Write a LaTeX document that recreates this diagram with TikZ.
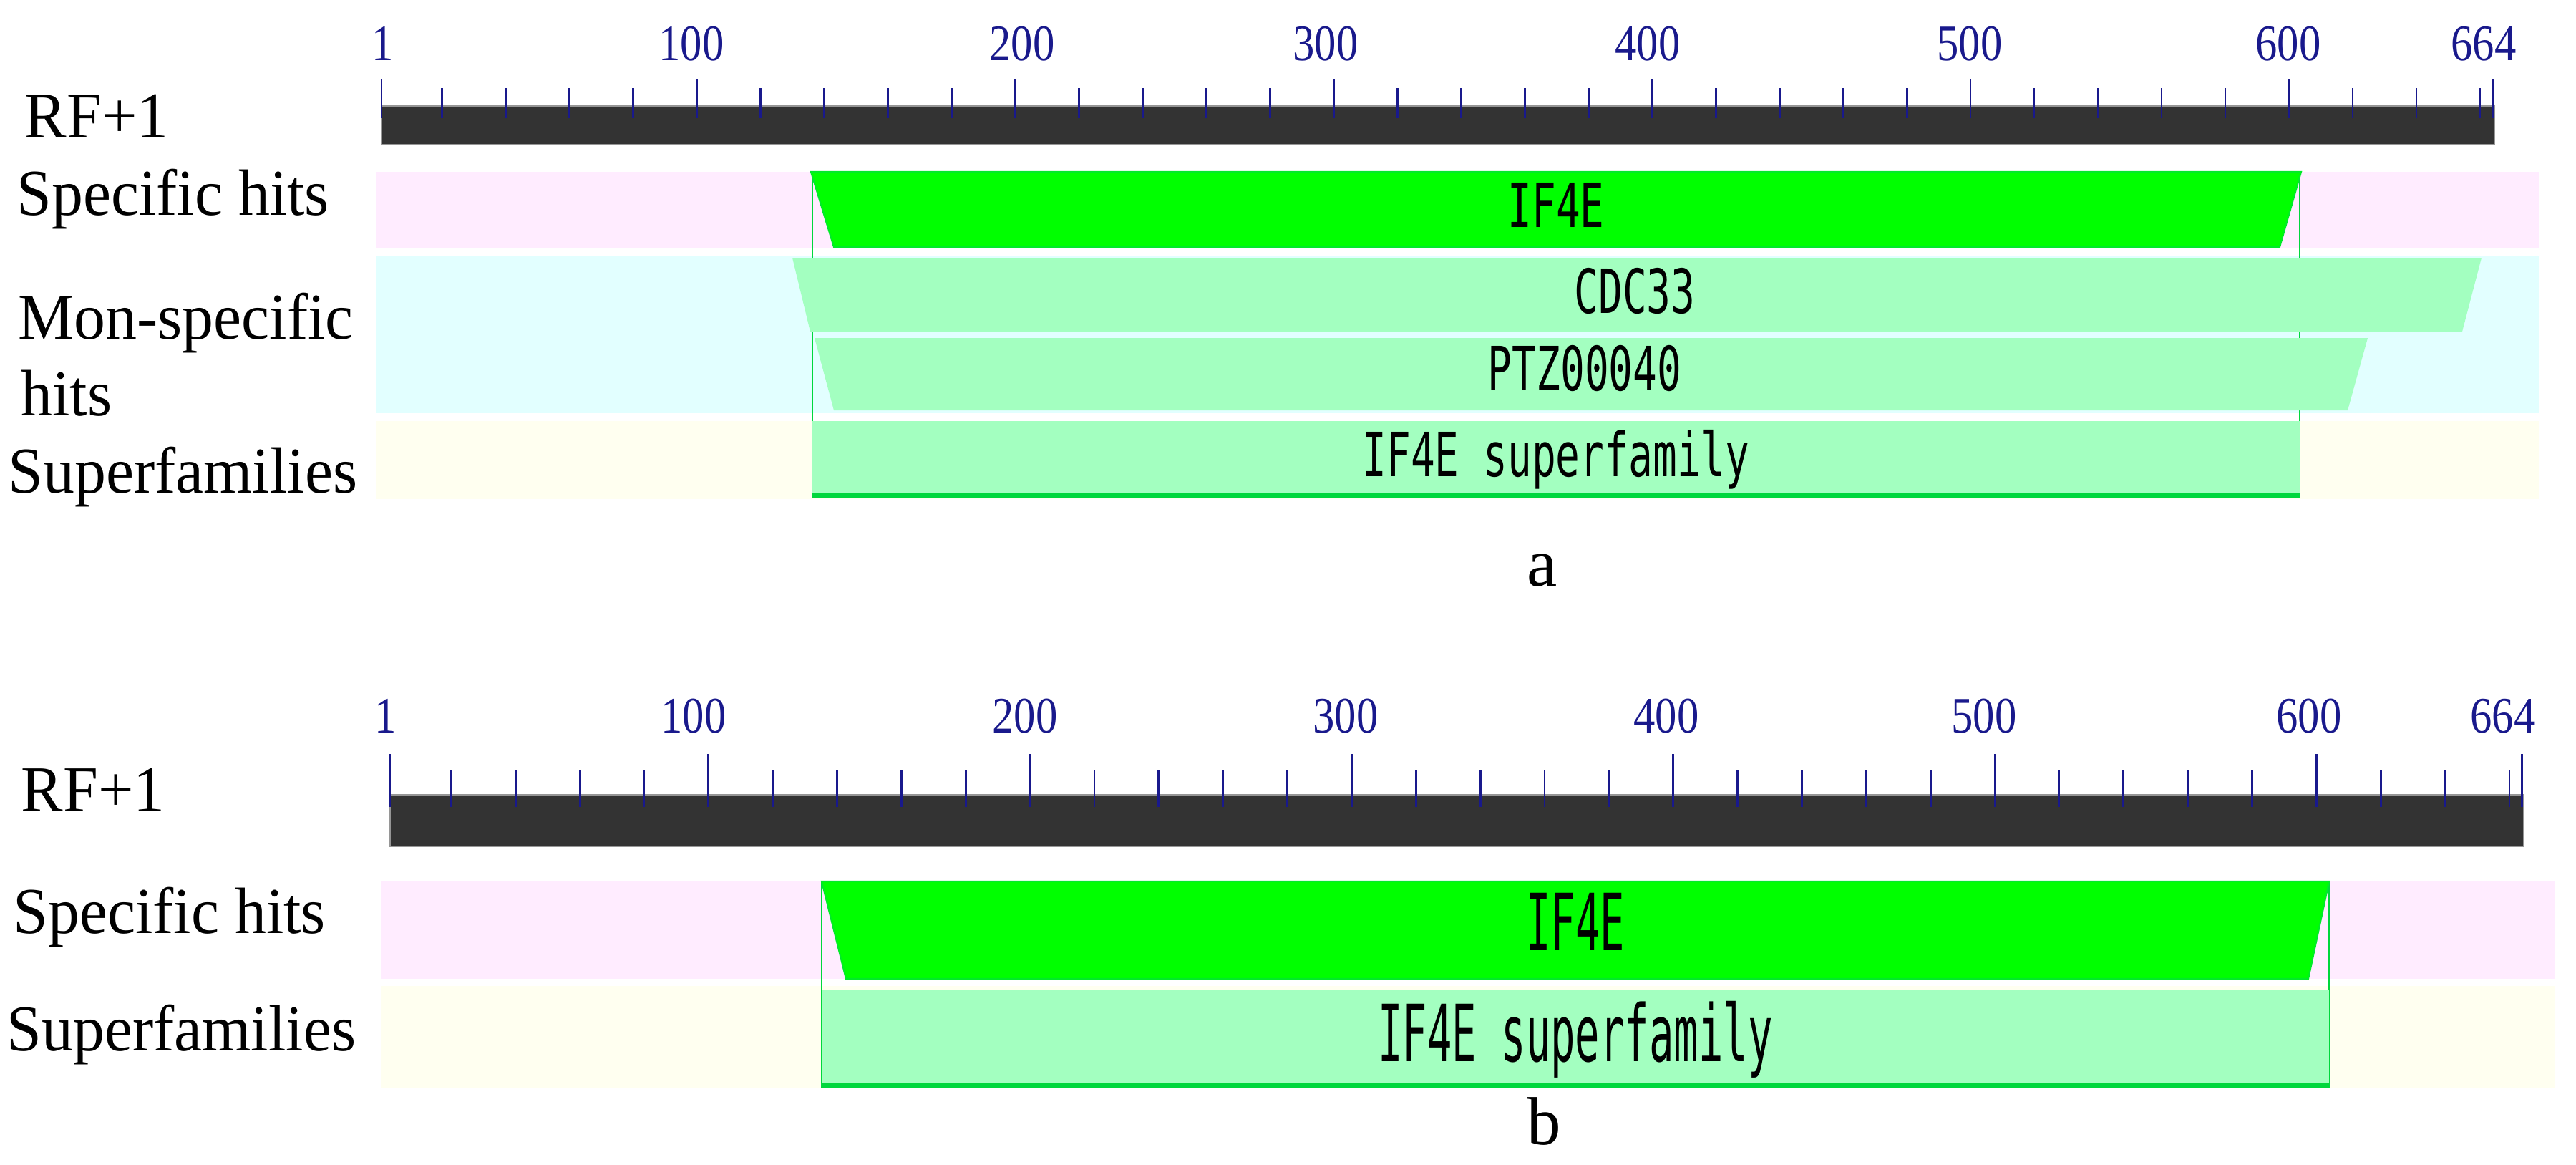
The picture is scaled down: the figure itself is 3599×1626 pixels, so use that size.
\documentclass[tikz,border=0pt]{standalone}
\usepackage{fontspec}
\setmainfont{Liberation Serif}
\newfontfamily\labfont[FakeStretch=0.96]{Liberation Serif}
\newfontfamily\tickfont[FakeStretch=0.85]{Liberation Serif}
\newfontfamily\monoA[FakeStretch=0.66]{DejaVu Sans Mono}
\newfontfamily\monoB[FakeStretch=0.52]{DejaVu Sans Mono}
\definecolor{tickblue}{RGB}{25,25,140}
\definecolor{bardark}{RGB}{51,51,51}
\definecolor{baredge}{RGB}{150,150,150}
\definecolor{pinkbg}{RGB}{255,236,255}
\definecolor{cyanbg}{RGB}{226,255,255}
\definecolor{yellowbg}{RGB}{255,255,240}
\definecolor{hitgreen}{RGB}{0,255,0}
\definecolor{palegreen}{RGB}{163,255,192}
\definecolor{edgegreen}{RGB}{0,215,60}
\begin{document}
\begin{tikzpicture}[x=0.01cm,y=-0.01cm,
  rowlab/.style={anchor=base west,inner sep=0pt,font=\labfont\fontsize{26}{28}\selectfont},
  ticklab/.style={anchor=base,inner sep=0pt,text=tickblue,font=\tickfont\fontsize{20.3}{22}\selectfont},
  caplab/.style={anchor=base,inner sep=0pt,font=\fontsize{27}{29}\selectfont},
  hitlabA/.style={anchor=base,inner sep=0pt,font=\monoA\fontsize{24.2}{26}\selectfont},
  hitlabB/.style={anchor=base,inner sep=0pt,font=\monoB\fontsize{31.3}{33}\selectfont},
  tickline/.style={draw=tickblue,line width=0.8pt},
  barbox/.style={fill=bardark,draw=baredge,line width=0.5pt},
  specbox/.style={fill=hitgreen,draw={rgb,255:red,0;green,235;blue,40},line width=0.6pt},
  nonspec/.style={fill=palegreen},
  sideline/.style={draw=edgegreen,line width=0.8pt},
  bottomline/.style={draw=edgegreen,line width=2pt}
]
\useasboundingbox[fill=white] (0,0) rectangle (3599,1626);

% ================= panel a =================
% backgrounds
\fill[pinkbg]   (526,240) rectangle (3548,347);
\fill[cyanbg]   (526,358) rectangle (3548,577);
\fill[yellowbg] (526,588) rectangle (3548,697);
% ruler
\draw[barbox] (533,148) rectangle (3485,202);
\foreach \v in {20,40,...,660} {
  \pgfmathsetmacro\xx{533+(\v-1)*4.449}
  \draw[tickline] (\xx,123) -- (\xx,165);
}
\foreach \v in {1,100,200,300,400,500,600,664} {
  \pgfmathsetmacro\xx{533+(\v-1)*4.449}
  \draw[tickline] (\xx,110) -- (\xx,165);
}
\node[ticklab] (ta1)   at (535,84)  {1};
\node[ticklab] (ta100) at (966,84)  {100};
\node[ticklab] (ta200) at (1428,84) {200};
\node[ticklab] (ta300) at (1852,84) {300};
\node[ticklab] (ta400) at (2302,84) {400};
\node[ticklab] (ta500) at (2752,84) {500};
\node[ticklab] (ta600) at (3197,84) {600};
\node[ticklab] (ta664) at (3470,84) {664};
% side lines of the superfamily span
\draw[sideline] (1135,240) -- (1135,692);
\draw[sideline] (3213,240) -- (3213,692);
% specific hit
\draw[specbox] (1133,240) -- (3215,240) -- (3185,345) -- (1165,345) -- cycle;
% non-specific hits
\fill[nonspec] (1107,360) -- (3467,360) -- (3440,463) -- (1132,463) -- cycle;
\fill[nonspec] (1138,472) -- (3308,472) -- (3280,573) -- (1165,573) -- cycle;
% superfamily
\fill[palegreen] (1135,588) rectangle (3213,692);
\draw[bottomline] (1134,692) -- (3214,692);
% texts in boxes
\node[hitlabA] (ifa)  at (2174,317) {IF4E};
\node[hitlabA] (cdc)  at (2284,437) {CDC33};
\node[hitlabA] (ptz)  at (2214,545) {PTZ00040};
\node[hitlabA] (sfa)  at (2174,665) {IF4E superfamily};
% row labels
\node[rowlab] (rfa)  at (34,192)  {RF+1};
\node[rowlab] (spa)  at (23,300)  {Specific hits};
\node[rowlab] (mona) at (25,473)  {Mon-specific};
\node[rowlab] (hitsa) at (29,580) {hits};
\node[rowlab] (supa) at (11,688)  {Superfamilies};
\node[caplab] (capa) at (2155,818) {a};

% ================= panel b =================
\fill[pinkbg]   (532,1230) rectangle (3569,1367);
\fill[yellowbg] (532,1377) rectangle (3569,1520);
\draw[barbox] (545,1110) rectangle (3526,1182);
\foreach \v in {20,40,...,660} {
  \pgfmathsetmacro\xx{545+(\v-1)*4.493}
  \draw[tickline] (\xx,1075) -- (\xx,1127);
}
\foreach \v in {1,100,200,300,400,500,600,664} {
  \pgfmathsetmacro\xx{545+(\v-1)*4.493}
  \draw[tickline] (\xx,1053) -- (\xx,1127);
}
\node[ticklab] (tb1)   at (539,1023)  {1};
\node[ticklab] (tb100) at (969,1023)  {100};
\node[ticklab] (tb200) at (1432,1023) {200};
\node[ticklab] (tb300) at (1880,1023) {300};
\node[ticklab] (tb400) at (2328,1023) {400};
\node[ticklab] (tb500) at (2772,1023) {500};
\node[ticklab] (tb600) at (3226,1023) {600};
\node[ticklab] (tb664) at (3497,1023) {664};
\draw[sideline] (1148,1231) -- (1148,1516);
\draw[sideline] (3254,1231) -- (3254,1516);
\draw[specbox] (1148,1231) -- (3254,1231) -- (3225,1367) -- (1182,1367) -- cycle;
\fill[palegreen] (1148,1382) rectangle (3254,1516);
\draw[bottomline] (1147,1516) -- (3255,1516);
\node[hitlabB] (ifb) at (2201,1327) {IF4E};
\node[hitlabB] (sfb) at (2201,1482) {IF4E superfamily};
\node[rowlab] (rfb)  at (29,1133)  {RF+1};
\node[rowlab] (spb)  at (18,1303)  {Specific hits};
\node[rowlab] (supb) at (9,1467)  {Superfamilies};
\node[caplab] (capb) at (2157,1598) {b};
\end{tikzpicture}
\end{document}
